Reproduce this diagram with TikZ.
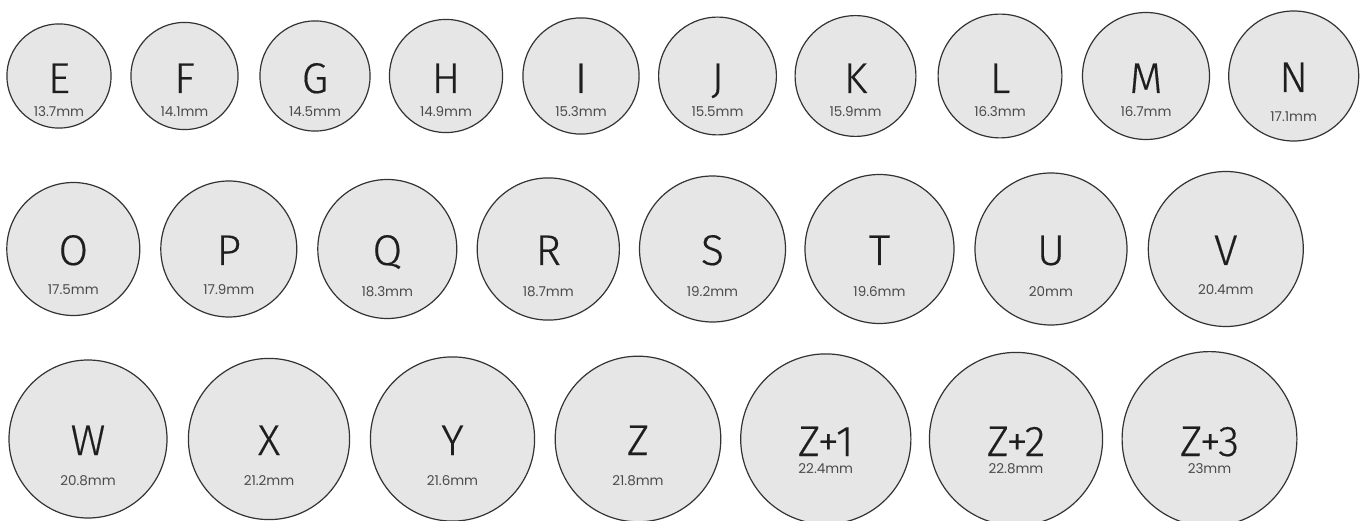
\documentclass[tikz,border=0pt]{standalone}
\usepackage{fontspec}
\setmainfont[FakeBold=0.35]{Fira Sans Light}
\newfontfamily\lblfont{Poppins}
\definecolor{ringfill}{HTML}{E6E6E6}
\definecolor{ringline}{HTML}{333333}
\definecolor{lettercol}{HTML}{1E1E1E}
\definecolor{labelcol}{HTML}{4A4A4A}
\tikzset{
  ring/.style={circle, draw=ringline, line width=1.2pt, fill=ringfill, inner sep=0pt},
  bigletter/.style={anchor=base, inner sep=0pt, text depth=0pt, text=lettercol, font=\fontsize{43}{43}\selectfont},
  sizelbl/.style={anchor=base, inner sep=0pt, text height=9pt, text=labelcol, font=\lblfont\fontsize{13.5}{13.5}\selectfont},
}
\begin{document}
\begin{tikzpicture}[x=1pt,y=-1pt]
\useasboundingbox[fill=white] (0,0) rectangle (1366,521);
\foreach \n/\cx/\cy/\r/\t/\m/\lo/\ll in {
  E/59/76/52.1/E/13.7mm/41/17,
  F/184.5/76/53.6/F/14.1mm/41/17,
  G/315/76/55.1/G/14.5mm/41/17,
  H/446/76/56.6/H/14.9mm/41/17,
  I/581/76/58.1/I/15.3mm/41/17,
  J/717.5/76/58.9/J/15.5mm/41/17,
  K/855.5/76/60.4/K/15.9mm/41/17,
  L/1000/76/61.9/L/16.3mm/41/17,
  M/1146/76/63.5/M/16.7mm/41/17,
  N/1293.7/76/65/N/17.1mm/46/16,
  O/73.3/249/66.5/O/17.5mm/46/16,
  P/228.8/249/68/P/17.9mm/46/16,
  Q/387.3/249/69.5/Q/18.3mm/48/16,
  R/548.3/249/71.1/R/18.7mm/48/16,
  S/712.5/249/73/S/19.2mm/48/16,
  T/879.5/249/74.5/T/19.6mm/48/16,
  U/1051/249/76/U/20mm/48/16,
  V/1225.8/249/77.5/V/20.4mm/46/16,
  W/88/439/79/W/20.8mm/46/16,
  X/269/439/80.6/X/21.2mm/46/16,
  Y/452.5/439/82.1/Y/21.6mm/46/16,
  Z/638/439/82.8/Z/21.8mm/46/16,
  Zp1/825.8/439/85.1/Z+1/22.4mm/34/17,
  Zp2/1016/439/86.6/Z+2/22.8mm/34/17,
  Zp3/1209.5/439/87.4/Z+3/23mm/34/17}
{
  \node[ring, minimum size={2*\r pt}] (ring\n) at (\cx,\cy) {};
  \node[bigletter] (let\n) at ([yshift=-\ll pt]ring\n.center) {\t};
  \node[sizelbl] (lbl\n) at ([yshift=-\lo pt]ring\n.center) {\m};
}
\end{tikzpicture}
\end{document}
